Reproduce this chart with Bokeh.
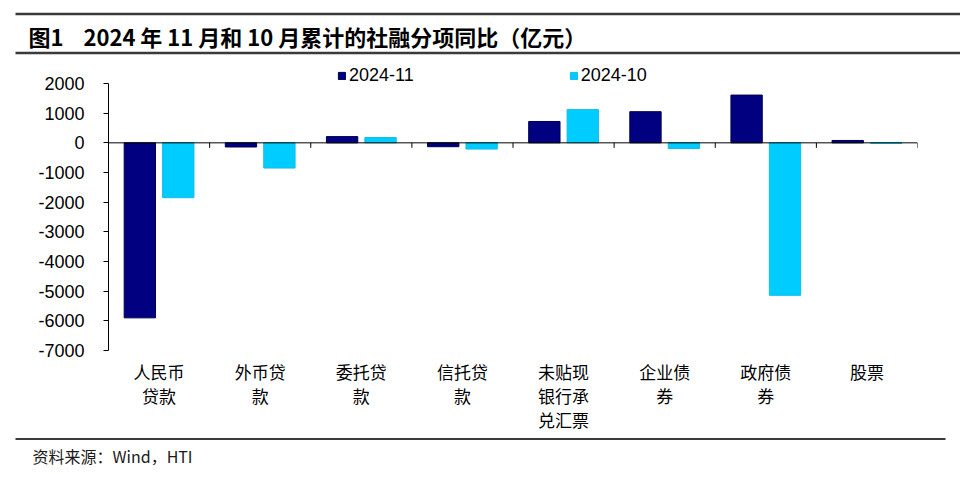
from bokeh.plotting import figure
from bokeh.models import Range1d, FixedTicker, Legend, LegendItem, ColumnDataSource, Span
from bokeh.layouts import column, row
from bokeh.transform import dodge
from bokeh.embed import file_html
from bokeh.resources import INLINE
from bokeh.core.properties import value

# ---------------- data ----------------
categories = ["人民币\n贷款", "外币贷\n款", "委托贷\n款", "信托贷\n款",
              "未贴现\n银行承\n兑汇票", "企业债\n券", "政府债\n券", "股票"]
nov_2024 = [-5900, -140, 210, -130, 720, 1050, 1610, 80]
oct_2024 = [-1850, -850, 180, -210, 1120, -190, -5140, -15]
series_names = ["2024-11", "2024-10"]
y_ticks = [2000, 1000, 0, -1000, -2000, -3000, -4000, -5000, -6000, -7000]
title_text = "图1\u00a0\u00a0\u00a0\u00a02024 年 11 月和 10 月累计的社融分项同比（亿元）"
source_text = "资料来源：Wind，HTI"

# ---------------- style ----------------
W = 960
DARK = "#000080"
LIGHT = "#00CCFF"
CJK = "Noto Sans CJK SC"
SANS = "Liberation Sans"
RULE = "#3a3a3a"


def blank(height):
    f = figure(width=W, height=height, x_range=Range1d(0, W), y_range=Range1d(0, height),
               x_axis_type=None, y_axis_type=None, toolbar_location=None,
               output_backend="svg", min_border=0, outline_line_color=None)
    f.xgrid.grid_line_color = None
    f.ygrid.grid_line_color = None
    return f


# ---------------- title bar (page y 0..55) ----------------
TOP_H = 55
top = blank(TOP_H)
top.segment(x0=[15, 15], y0=[TOP_H - 13.5, TOP_H - 52.5], x1=[W, W], y1=[TOP_H - 13.5, TOP_H - 52.5],
            line_color=RULE, line_width=2.5, line_cap="butt")
top.text(x=[28], y=[TOP_H - 35], text=[title_text], text_baseline="middle", text_align="left",
         text_font=value(CJK), text_font_style="bold", text_font_size="22px", text_color="#000000")

# ---------------- main chart (page y 55..437) ----------------
MAIN_H = 382
F_LEFT, F_RIGHT = 108, 917
F_TOP = 3                # frame top inside this figure (page y 58)
AXIS_TOP_PX = 25         # px from frame top down to the 2000 tick (page y 83)
PLOT_PX = 267            # px between 2000 and -7000 (page y 83..350)
F_H = AXIS_TOP_PX + PLOT_PX
ymin, yaxis_max = -7000, 2000
upp = (yaxis_max - ymin) / PLOT_PX
ymax_view = yaxis_max + AXIS_TOP_PX * upp

p = figure(width=W, height=MAIN_H, x_range=Range1d(0, len(categories)), y_range=Range1d(ymin, ymax_view),
           toolbar_location=None, output_backend="svg",
           min_border_left=F_LEFT, min_border_right=W - F_RIGHT, min_border_top=F_TOP,
           min_border_bottom=MAIN_H - F_TOP - F_H, outline_line_color=None)
p.xgrid.grid_line_color = None
p.ygrid.grid_line_color = None

centers = [i + 0.5 for i in range(len(categories))]
src = ColumnDataSource(dict(x=centers, nov=nov_2024, oct=oct_2024))

r1 = p.vbar(x=dodge("x", -0.19, range=p.x_range), top="nov", bottom=0, width=0.31, source=src,
            fill_color=DARK, line_color="#00004a", line_width=1)
r2 = p.vbar(x=dodge("x", 0.19, range=p.x_range), top="oct", bottom=0, width=0.31, source=src,
            fill_color=LIGHT, line_color="#12bde8", line_width=1)

# zero line + category boundary ticks
p.add_layout(Span(location=0, dimension="width", line_color="#000000", line_width=1))
bounds = [i + 1 for i in range(len(categories))]
tick_len = 5 * upp
p.segment(x0=bounds, y0=[0] * len(bounds), x1=bounds, y1=[-tick_len] * len(bounds),
          line_color="#000000", line_width=1)

# x axis: labels only
xa = p.xaxis[0]
xa.ticker = FixedTicker(ticks=centers)
xa.major_label_overrides = {c: lab for c, lab in zip(centers, categories)}
xa.axis_line_color = None
xa.major_tick_line_color = None
xa.minor_tick_line_color = None
xa.major_label_text_font = CJK
xa.major_label_text_font_size = "17px"
xa.major_label_text_color = "#000000"
xa.major_label_text_line_height = 0.97
xa.major_label_standoff = 2

# y axis
ya = p.yaxis[0]
ya.ticker = FixedTicker(ticks=y_ticks)
ya.major_label_overrides = {t: str(t) for t in y_ticks}
ya.bounds = (ymin, yaxis_max)
ya.axis_line_color = "#000000"
ya.major_tick_line_color = "#000000"
ya.major_tick_out = 5
ya.major_tick_in = 0
ya.minor_tick_line_color = None
ya.major_label_text_font = SANS
ya.major_label_text_font_size = "18px"
ya.major_label_text_color = "#000000"
ya.major_label_standoff = 19

legend = Legend(items=[LegendItem(label=series_names[0], renderers=[r1]),
                       LegendItem(label=series_names[1], renderers=[r2])],
                orientation="horizontal", location=(229, F_H - 28), spacing=155,
                glyph_width=9, glyph_height=9, label_standoff=3, padding=0, margin=0,
                border_line_color=None, background_fill_alpha=0,
                label_text_font=SANS, label_text_font_size="18px", label_text_color="#000000")
p.add_layout(legend)

# ---------------- footer (page y 437..477) ----------------
BOT_H = 40
bot = blank(BOT_H)
bot.segment(x0=[15], y0=[BOT_H - 1.5], x1=[945], y1=[BOT_H - 1.5], line_color=RULE, line_width=2,
            line_cap="butt")
bot.text(x=[32], y=[BOT_H - 18], text=[source_text], text_baseline="middle", text_align="left",
         text_font=value(CJK), text_font_size="16px", text_color="#1a1a1a")

layout = column(row(top), row(p), row(bot), spacing=0)
open("out.html", "w").write(file_html(layout, INLINE))
